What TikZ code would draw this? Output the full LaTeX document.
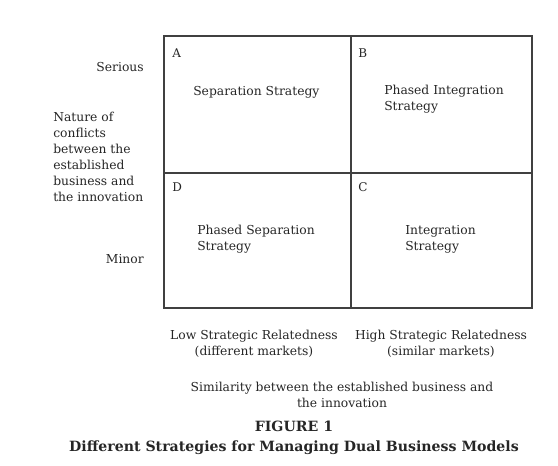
\documentclass[tikz,border=0pt]{standalone}
\usepackage{fontspec}
\setmainfont{DejaVu Serif}
\usepackage{xcolor}
\usetikzlibrary{positioning}

\begin{document}
\begin{tikzpicture}[
    x=0.75pt, y=-0.75pt,
    node distance=0pt,
    cell/.style={rectangle, draw=black!75, line width=1pt, inner sep=0pt, outer sep=0pt},
    corner/.style={font=\fontsize{9}{12}\selectfont, text=black!85, inner sep=0pt},
    txt/.style={font=\fontsize{9.25}{12}\selectfont, text=black!85, inner sep=0pt},
    ttl/.style={font=\bfseries\fontsize{10.6}{15}\selectfont, text=black!85, inner sep=0pt, align=center}
]
\useasboundingbox (0,0) rectangle (558,466);

% Matrix of the four strategies
\node[cell, minimum width=140.25pt, minimum height=102.75pt, anchor=north west] at (164,36) (cellA) {};
\node[cell, minimum width=135.75pt, minimum height=102.75pt, right=of cellA] (cellB) {};
\node[cell, minimum width=140.25pt, minimum height=101.25pt, below=of cellA] (cellD) {};
\node[cell, minimum width=135.75pt, minimum height=101.25pt, below=of cellB] (cellC) {};

% Corner letters
\node[corner, anchor=west] at (172,53) (lA) {A};
\node[corner, anchor=west] at (358,53) (lB) {B};
\node[corner, anchor=west] at (172,187) (lD) {D};
\node[corner, anchor=west] at (358,187) (lC) {C};

% Strategies
\node[txt, anchor=west] at (193,92) (sep) {Separation Strategy};
\node[txt, anchor=west, align=left] at (384,99) (phint) {Phased Integration\\Strategy};
\node[txt, anchor=west, align=left] at (197,239) (phsep) {Phased Separation\\Strategy};
\node[txt, anchor=west, align=left] at (405,239) (integ) {Integration\\Strategy};

% Vertical axis
\node[txt, anchor=east] at (144,67) (serious) {Serious};
\node[txt, anchor=west, align=left] at (53,157) (yaxis) {Nature of\\conflicts\\between the\\established\\business and\\the innovation};
\node[txt, anchor=east] at (144,259) (minor) {Minor};

% Horizontal axis
\node[txt, align=center] at (254,344) (low) {Low Strategic Relatedness\\(different markets)};
\node[txt, align=center] at (441,344) (high) {High Strategic Relatedness\\(similar markets)};
\node[txt, align=center] at (342,395) (xaxis) {Similarity between the established business and\\the innovation};

% Caption
\node[ttl] at (294,438) (caption) {FIGURE 1\\Different Strategies for Managing Dual Business Models};
\end{tikzpicture}
\end{document}
